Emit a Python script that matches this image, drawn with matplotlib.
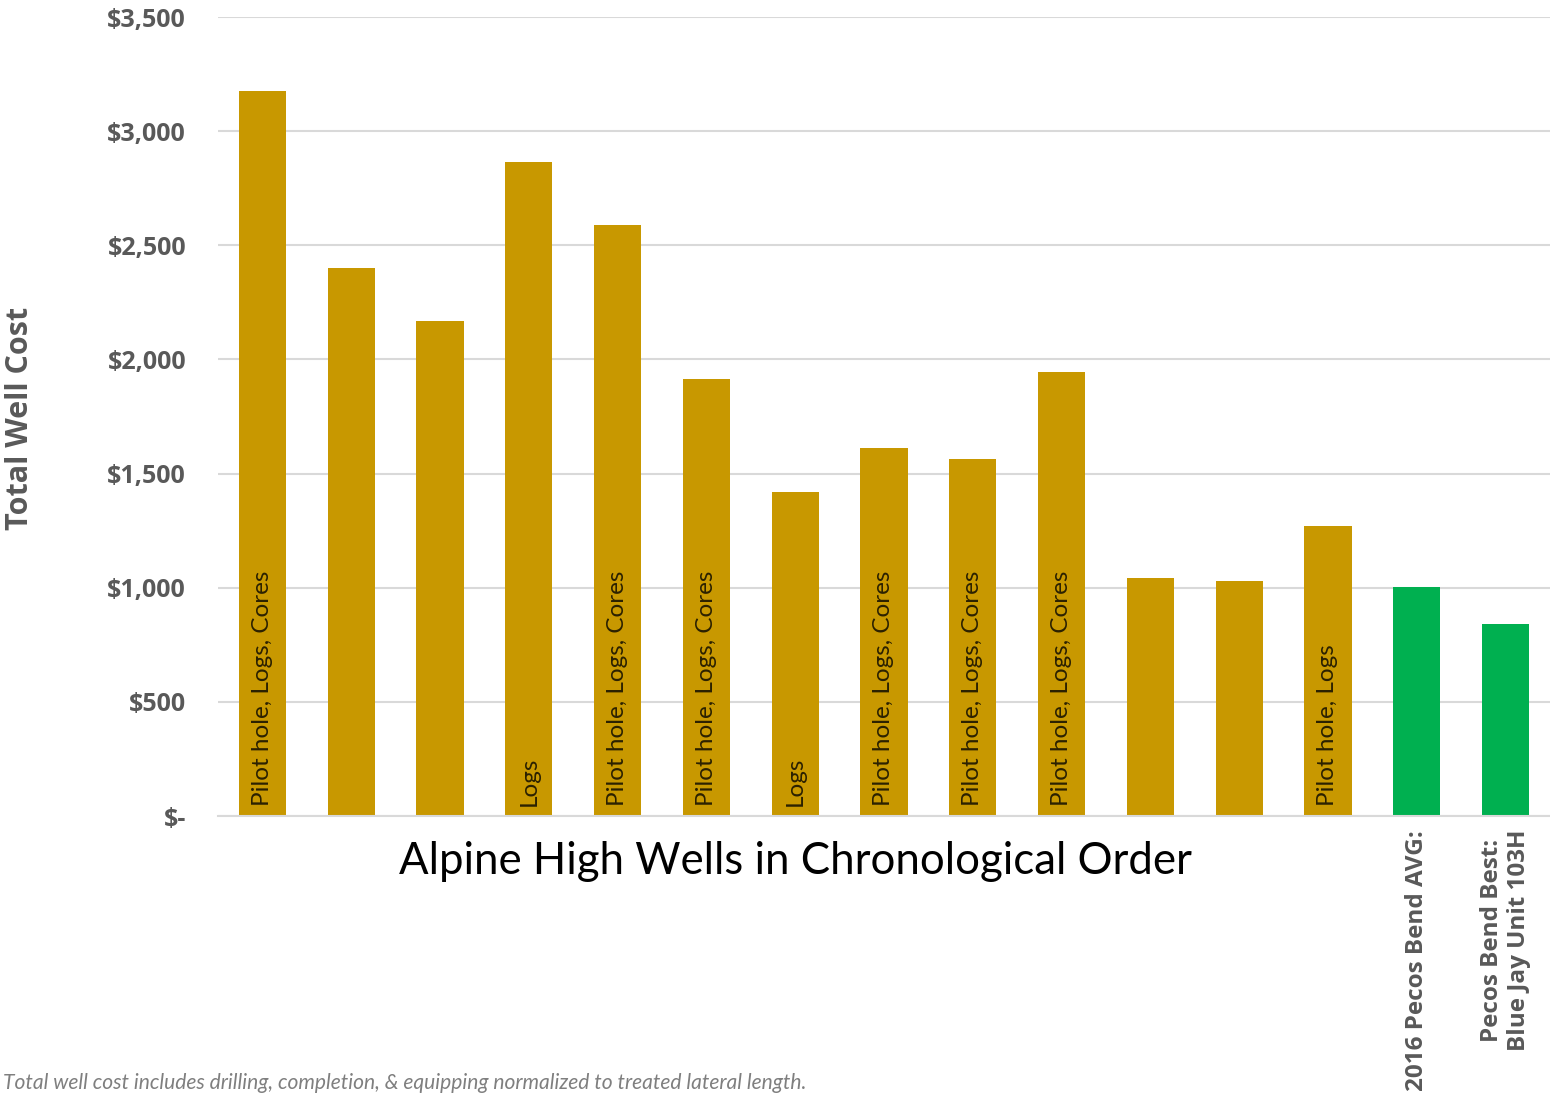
"""Alpine High total well cost bar chart."""

import matplotlib

matplotlib.use("Agg")
import matplotlib.pyplot as plt
import matplotlib.transforms as mtransforms
import numpy as np

# Data ($ thousands)
wells = [f"Well {i}" for i in range(1, 14)] + [
    "2016 Pecos Bend AVG:",
    "Pecos Bend Best:\nBlue Jay Unit 103H",
]
costs = [3175, 2400, 2170, 2865, 2590, 1915, 1420, 1612, 1565, 1945, 1042, 1030, 1272, 1005, 843]
notes = [
    "Pilot hole, Logs, Cores", "", "", "Logs", "Pilot hole, Logs, Cores",
    "Pilot hole, Logs, Cores", "Logs", "Pilot hole, Logs, Cores",
    "Pilot hole, Logs, Cores", "Pilot hole, Logs, Cores", "", "",
    "Pilot hole, Logs", "", "",
]
tick_labels = [""] * 13 + wells[13:]
is_benchmark = [False] * 13 + [True, True]
yticks = [0, 500, 1000, 1500, 2000, 2500, 3000, 3500]
ytick_labels = ["$-", "$500", "$1,000", "$1,500", "$2,000", "$2,500", "$3,000", "$3,500"]

GOLD = "#C89800"
GREEN = "#00B050"
GRAY = "#595959"
BOLD_FONT = ["Open Sans", "DejaVu Sans"]

plt.rcParams["font.family"] = ["Lato", "DejaVu Sans"]


def main() -> None:
    fig = plt.figure(figsize=(15.5, 10.95), dpi=100)
    ax = fig.add_axes([218 / 1550, 1 - 816 / 1095, 1 - 218 / 1550, (816 - 17) / 1095])

    x = np.arange(len(costs))
    colors = [GREEN if b else GOLD for b in is_benchmark]
    ax.bar(x, costs, width=0.53, color=colors, zorder=2)

    for xi, note in zip(x, notes):
        if note:
            ax.text(xi, 45, note, rotation=90, ha="center", va="bottom",
                    fontsize=17.5, color="#2b2100", zorder=3)

    ax.set_xlim(-0.5, len(costs) - 0.5)
    ax.set_ylim(0, 3500)
    ax.set_yticks(yticks)
    ax.set_yticklabels(ytick_labels, fontsize=18, fontweight="bold", color=GRAY,
                       family=BOLD_FONT)
    ax.set_xticks(x)
    ax.set_xticklabels(tick_labels, rotation=90, fontsize=17.5, fontweight="bold",
                       color=GRAY, ha="center", va="top", multialignment="center",
                       family=BOLD_FONT)
    ax.tick_params(axis="both", length=0)
    ax.tick_params(axis="y", pad=23)
    ax.tick_params(axis="x", pad=10)

    ax.grid(axis="y", color="#d9d9d9", linewidth=1.5, zorder=0)
    for side in ("top", "right", "left"):
        ax.spines[side].set_visible(False)
    ax.spines["bottom"].set_color("#d9d9d9")
    ax.spines["bottom"].set_linewidth(1.5)

    fig.text(20 / 1550, 1 - 418 / 1095, "Total Well Cost", rotation=90,
             ha="center", va="center", fontsize=22, fontweight="bold",
             color=GRAY, family=BOLD_FONT)

    # x-axis title centred over the Alpine High wells
    trans = mtransforms.blended_transform_factory(ax.transData, fig.transFigure)
    ax.text(6, 1 - 862 / 1095, "Alpine High Wells in Chronological Order",
            transform=trans, ha="center", va="center", fontsize=31.5, color="black")

    fig.text(3 / 1550, 1 - 1083 / 1095,
             "Total well cost includes drilling, completion, & equipping normalized to treated lateral length.",
             fontsize=15.1, style="italic", color="#7f7f7f", ha="left", va="center")

    fig.savefig("out.png", dpi=100)
    plt.close(fig)


if __name__ == "__main__":
    main()
